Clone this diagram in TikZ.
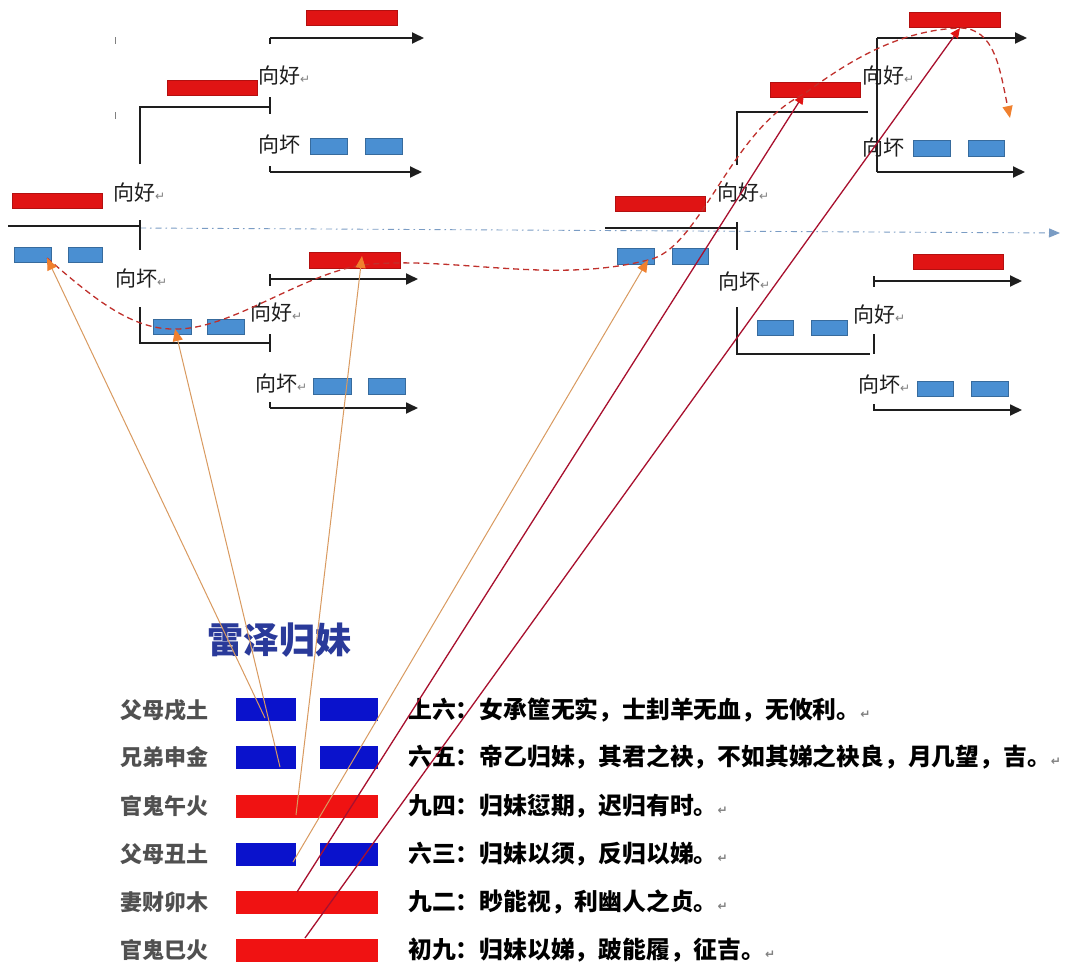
\documentclass[tikz,border=0pt]{standalone}
\usepackage{fontspec}
\usetikzlibrary{arrows.meta}
\newfontfamily\cjk{Noto Sans CJK SC}
\newfontfamily\dejavu{DejaVu Sans}
\definecolor{tbred}{HTML}{E01414}
\definecolor{tbblue}{HTML}{4A8FD2}
\definecolor{yinblue}{HTML}{0A12CC}
\definecolor{yangred}{HTML}{F01212}
\definecolor{treeblk}{HTML}{1E1E1E}
\definecolor{orln}{HTML}{D99A60}
\definecolor{ortip}{HTML}{F0802E}
\definecolor{drln}{HTML}{A8102E}
\definecolor{dashred}{HTML}{C0302C}
\definecolor{axis}{HTML}{7A9CC4}
\definecolor{lblgray}{HTML}{505050}
\definecolor{titleblue}{HTML}{2A3A9A}
\newcommand\ret{{\dejavu\fontsize{12}{12}\selectfont\textcolor{gray}{↵}}}
\newcommand\mkbar[5]{\node[#1, anchor=north west, minimum width=#4pt, minimum height=#5pt] (#2) at (#3) {};}
\tikzset{
  redbar/.style={fill=tbred, draw=tbred!80!black, line width=0.6pt, inner sep=0pt},
  bluebar/.style={fill=tbblue, draw=tbblue!75!black, line width=0.6pt, inner sep=0pt},
  yinbar/.style={fill=yinblue, draw=none, inner sep=0pt},
  yangbar/.style={fill=yangred, draw=none, inner sep=0pt},
  tree/.style={draw=treeblk, line width=1.8pt},
  treearrow/.style={tree, -{Triangle[length=12pt,width=11pt]}},
  lbl/.style={font=\cjk\fontsize{21}{21}\selectfont, text=treeblk, anchor=west, inner sep=0pt},
  orangeline/.style={draw=orln, line width=1pt, -{Triangle[length=12pt,width=10pt,color=ortip]}},
  redline/.style={draw=drln, line width=1.3pt, -{Triangle[length=10pt,width=9pt,color=tbred]}},
  yaolbl/.style={font=\cjk\bfseries\fontsize{22}{22}\selectfont, text=lblgray, anchor=west, inner sep=0pt},
  yaotxt/.style={font=\cjk\bfseries\fontsize{23.8}{23.8}\selectfont, text=black, anchor=west, inner sep=0pt},
}
\begin{document}
\begin{tikzpicture}[x=1pt,y=-1pt]
\useasboundingbox[fill=white] (0,0) rectangle (1066,980);

% stray marks
\draw[gray, line width=0.8pt] (115,37) -- (115,44);
\draw[gray, line width=0.8pt] (115,112) -- (115,119);

% axis
\draw[axis, line width=0.9pt, dash pattern=on 6pt off 4pt on 1.5pt off 4pt, -{Triangle[length=11pt,width=9pt]}] (140,228) -- (1060,233);

% ---------- left tree ----------
\draw[tree] (8,226) -- (140,226);
\draw[tree] (140,220) -- (140,250);
\draw[tree] (140,164) -- (140,107) -- (270,107);
\draw[tree] (270,97) -- (270,114);
\draw[tree] (140,307) -- (140,343) -- (270,343);
\draw[tree] (270,334) -- (270,352);
\draw[tree] (270,44) -- (270,38);
\draw[treearrow] (270,38) -- (424,38);
\draw[tree] (270,166) -- (270,172);
\draw[treearrow] (270,172) -- (422,172);
\draw[tree] (270,274) -- (270,286);
\draw[treearrow] (270,279) -- (418,279);
\draw[tree] (270,402) -- (270,408);
\draw[treearrow] (270,408) -- (418,408);

\mkbar{redbar}{LR0}{12,193}{90}{15}
\mkbar{bluebar}{LB0a}{14,247}{37}{15}
\mkbar{bluebar}{LB0b}{68,247}{34}{15}
\mkbar{redbar}{LR1}{167,80}{90}{15}
\mkbar{redbar}{LR2}{306,10}{91}{15}
\mkbar{bluebar}{LB2a}{310,138}{37}{16}
\mkbar{bluebar}{LB2b}{365,138}{37}{16}
\mkbar{bluebar}{LB1a}{153,319}{38}{15}
\mkbar{bluebar}{LB1b}{207,319}{37}{15}
\mkbar{redbar}{LR3}{309,252}{91}{16}
\mkbar{bluebar}{LB3a}{313,378}{38}{16}
\mkbar{bluebar}{LB3b}{368,378}{37}{16}

\node[lbl] (lg0) at (113,193) {向好\ret};
\node[lbl] (lb0) at (115,278) {向坏\ret};
\node[lbl] (lg1) at (258,76) {向好\ret};
\node[lbl] (lb1) at (258,144) {向坏};
\node[lbl] (lg2) at (250,313) {向好\ret};
\node[lbl] (lb2) at (255,383) {向坏\ret};

% ---------- right tree ----------
\draw[tree] (605,228) -- (737,228);
\draw[tree] (737,222) -- (737,250);
\draw[tree] (737,165) -- (737,112) -- (868,112);
\draw[tree] (877,172) -- (877,38);
\draw[treearrow] (877,38) -- (1027,38);
\draw[treearrow] (877,172) -- (1025,172);
\draw[tree] (737,307) -- (737,354) -- (870,354);
\draw[tree] (874,334) -- (874,354);
\draw[tree] (874,276) -- (874,287);
\draw[treearrow] (874,281) -- (1022,281);
\draw[tree] (874,404) -- (874,411);
\draw[treearrow] (874,410) -- (1022,410);

\mkbar{redbar}{RR0}{615,196}{90}{15}
\mkbar{bluebar}{RB0a}{617,248}{37}{16}
\mkbar{bluebar}{RB0b}{672,248}{36}{16}
\mkbar{redbar}{RR1}{770,82}{90}{15}
\mkbar{redbar}{RR2}{909,12}{91}{15}
\mkbar{bluebar}{RB2a}{913,140}{37}{16}
\mkbar{bluebar}{RB2b}{968,140}{36}{16}
\mkbar{redbar}{RR3}{913,254}{90}{15}
\mkbar{bluebar}{RB1a}{757,320}{36}{15}
\mkbar{bluebar}{RB1b}{811,320}{36}{15}
\mkbar{bluebar}{RB3a}{917,381}{36}{15}
\mkbar{bluebar}{RB3b}{971,381}{37}{15}

\node[lbl] (rg0) at (717,193) {向好\ret};
\node[lbl] (rb0) at (718,281) {向坏\ret};
\node[lbl] (rg1) at (862,76) {向好\ret};
\node[lbl] (rb1) at (862,147) {向坏};
\node[lbl] (rg2) at (853,315) {向好\ret};
\node[lbl] (rb2) at (858,384) {向坏\ret};

% ---------- hexagram ----------
\node[font=\cjk\bfseries\fontsize{36}{36}\selectfont, text=titleblue, inner sep=0pt] (title) at (279,640) {雷泽归妹};

\node[yaolbl] (n6) at (120,710) {父母戌土};
\node[yaolbl] (n5) at (120,757) {兄弟申金};
\node[yaolbl] (n4) at (120,806) {官鬼午火};
\node[yaolbl] (n3) at (120,854) {父母丑土};
\node[yaolbl] (n2) at (120,902) {妻财卯木};
\node[yaolbl] (n1) at (120,950) {官鬼巳火};

\mkbar{yinbar}{y6a}{236,698}{60}{23}
\mkbar{yinbar}{y6b}{320,698}{58}{23}
\mkbar{yinbar}{y5a}{236,746}{60}{23}
\mkbar{yinbar}{y5b}{320,746}{58}{23}
\mkbar{yangbar}{y4}{236,795}{142}{23}
\mkbar{yinbar}{y3a}{236,843}{60}{23}
\mkbar{yinbar}{y3b}{320,843}{58}{23}
\mkbar{yangbar}{y2}{236,891}{142}{23}
\mkbar{yangbar}{y1}{236,939}{142}{23}

\node[yaotxt] (t6) at (408,710) {上六：女承筐无实，士刲羊无血，无攸利。\ret};
\node[yaotxt] (t5) at (408,757) {六五：帝乙归妹，其君之袂，不如其娣之袂良，月几望，吉。\ret};
\node[yaotxt] (t4) at (408,806) {九四：归妹愆期，迟归有时。\ret};
\node[yaotxt] (t3) at (408,854) {六三：归妹以须，反归以娣。\ret};
\node[yaotxt] (t2) at (408,902) {九二：眇能视，利幽人之贞。\ret};
\node[yaotxt] (t1) at (408,950) {初九：归妹以娣，跛能履，征吉。\ret};

% ---------- connectors ----------
\coordinate (p1) at (47,258);
\coordinate (p2) at (175,329);
\coordinate (p3) at (362,256);
\coordinate (p4) at (648,260);
\coordinate (p5) at (804,94);
\coordinate (p6) at (960,28);
\coordinate (p7) at (1010,118);
\coordinate (q1) at (265,718);
\coordinate (q2) at (280,767);
\coordinate (q3) at (296,815);
\coordinate (q4) at (293,862);
\coordinate (q5) at (297,892);
\coordinate (q6) at (305,938);

\draw[dashred, line width=1.3pt, dash pattern=on 6pt off 4pt, -{Triangle[length=12pt,width=10pt,color=ortip]}]
  (p1) .. controls (90,295) and (130,330) .. (p2)
  .. controls (230,330) and (300,275) .. (362,265)
  .. controls (450,255) and (550,285) .. (p4)
  .. controls (700,250) and (730,130) .. (p5)
  .. controls (850,60) and (900,30) .. (p6)
  .. controls (995,28) and (1000,70) .. (p7);

\draw[orangeline] (q1) -- (p1);
\draw[orangeline] (q2) -- (p2);
\draw[orangeline] (q3) -- (p3);
\draw[orangeline] (q4) -- (p4);
\draw[redline] (q5) -- (p5);
\draw[redline] (q6) -- (p6);
\end{tikzpicture}
\end{document}
